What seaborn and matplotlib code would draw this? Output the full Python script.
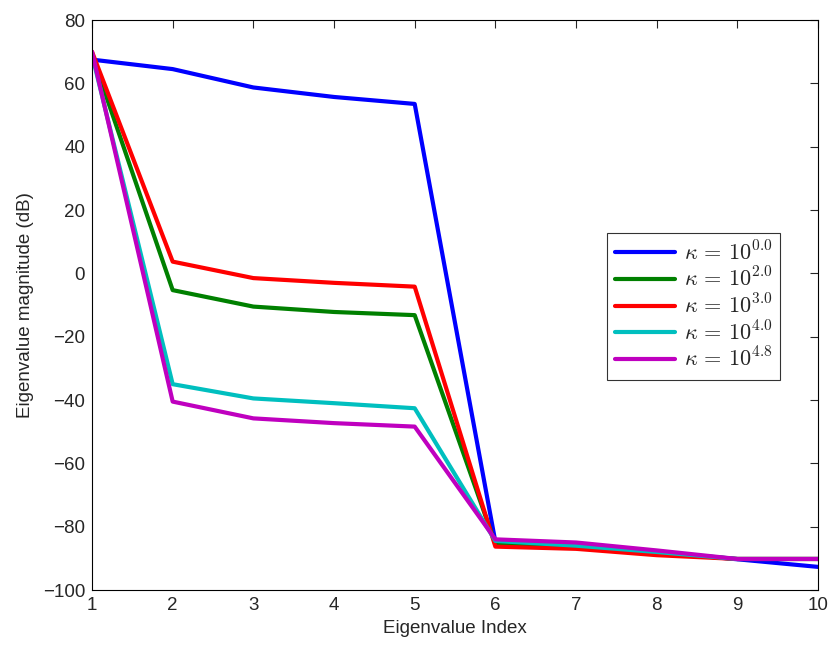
import numpy as np
import pandas as pd
import seaborn as sns
import matplotlib
matplotlib.use("Agg")
import matplotlib.pyplot as plt

# eigenvalue magnitudes (dB)
index = [1, 2, 3, 4, 5, 6, 7, 8, 9, 10]
kappa_0_0 = [67.5, 64.5, 58.7, 55.7, 53.5, -84.8, -86.0, -88.0, -90.3, -92.7]
kappa_2_0 = [69.0, -5.3, -10.5, -12.2, -13.2, -85.5, -86.5, -88.2, -90.2, -90.2]
kappa_3_0 = [70.0, 3.7, -1.5, -3.0, -4.2, -86.3, -87.0, -89.0, -90.2, -90.2]
kappa_4_0 = [69.0, -35.0, -39.5, -41.0, -42.6, -84.5, -86.0, -88.0, -90.2, -90.2]
kappa_4_8 = [70.0, -40.5, -45.8, -47.3, -48.4, -84.0, -85.0, -87.5, -90.2, -90.2]

labels = [r"$\kappa\,=\,10^{0.0}$", r"$\kappa\,=\,10^{2.0}$", r"$\kappa\,=\,10^{3.0}$",
          r"$\kappa\,=\,10^{4.0}$", r"$\kappa\,=\,10^{4.8}$"]
series = [kappa_0_0, kappa_2_0, kappa_3_0, kappa_4_0, kappa_4_8]
colors = ["#0000ff", "#008000", "#ff0000", "#00bfbf", "#bf00bf"]

frames = []
for lab, vals in zip(labels, series):
    frames.append(pd.DataFrame({"index": index, "value": vals, "kappa": lab}))
df = pd.concat(frames, ignore_index=True)

sns.set_style("white")
plt.rcParams["font.family"] = ["Liberation Sans", "DejaVu Sans"]
plt.rcParams["mathtext.fontset"] = "cm"

fig = plt.figure(figsize=(8.38, 6.5), dpi=100)
ax = fig.add_axes([0.1098, 0.0923, 0.8664, 0.8769])

sns.lineplot(data=df, x="index", y="value", hue="kappa", palette=colors,
             linewidth=3, ax=ax, legend=True)

ax.set_xlim(1, 10)
ax.set_ylim(-100, 80)
ax.set_xticks(range(1, 11))
ax.set_yticks(range(-100, 81, 20))
ax.set_xlabel("Eigenvalue Index", fontsize=13.5, labelpad=4)
ax.set_ylabel("Eigenvalue magnitude (dB)", fontsize=13.5, labelpad=6)
ax.tick_params(direction="in", top=True, right=True, labelsize=13.5, length=6, width=0.8, pad=5)
for s in ax.spines.values():
    s.set_color("black")
    s.set_linewidth(0.8)

leg = ax.legend(loc="upper left", bbox_to_anchor=(0.694, 0.645), fontsize=16,
                frameon=True, fancybox=False, edgecolor="black",
                handlelength=2.7, borderpad=0.35, labelspacing=0.12, handletextpad=0.4)
leg.get_frame().set_linewidth(0.8)
for h in leg.get_lines():
    h.set_linewidth(3)

fig.savefig("out.png", dpi=100)
